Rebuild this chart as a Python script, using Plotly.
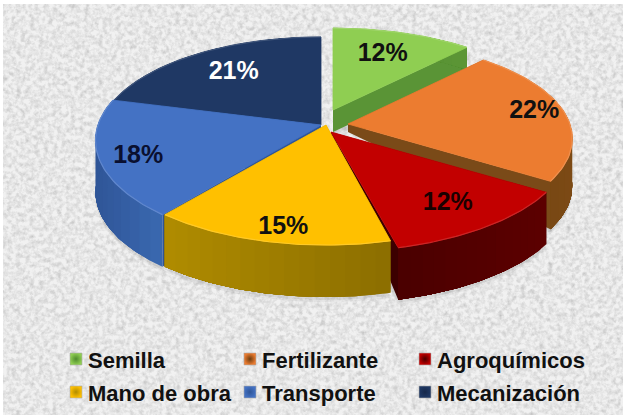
import math
import urllib.parse
import plotly.graph_objects as go

categories = ["Semilla", "Fertilizante", "Agroquímicos", "Mano de obra", "Transporte", "Mecanización"]
values = [12, 22, 12, 15, 18, 21]

# Style and projection settings (pie drawn in perspective, angles come from values)
top_colors = ["#8fce52", "#ec7c30", "#c20000", "#ffc000", "#4472c4", "#1f3864"]
side_left = ["#4f8a2e", "#6b3d10", "#4a0000", "#b08c00", "#2f5597", "#16284a"]
side_right = ["#5c9636", "#7c4a15", "#5c0000", "#8c6e00", "#3a68b0", "#16284a"]
radial_side = ["#5a9436", "#7a4a18", "#3c0000", "#8c6e00", "#2f5597", "#16284a"]
label_colors = ["#111111", "#111111", "#1a0000", "#111111", "#0a1030", "#ffffff"]
apex = [(333, 110), (348, 124), (331, 132), (326, 125), (321, 125), (321, 125)]
scale_x = [0.93, 0.94, 1.0, 0.96, 0.945, 0.94]
scale_y = [0.93, 0.95, 1.0, 1.0, 1.0, 1.0]
depth = [22, 48, 52, 52, 52, 40]
apex_depth = [22, 8, 8, 52, 52, 40]
label_frac = [0.68, 0.86, 0.77, 0.89, 0.83, 0.70]
label_shift = [(0, 0), (0, -2), (0, 1), (7, 0), (0, 4), (0, 0)]
draw_order = [5, 4, 0, 1, 2, 3]
RX, RY, KX, KY = 236, 104, 0.15, 0.154


def project(i, deg, r):
    a = math.radians(deg)
    s, down = math.sin(a), -math.cos(a)
    return (apex[i][0] + scale_x[i] * r * RX * s * (1 + KX * r * down),
            apex[i][1] + scale_y[i] * r * RY * down * (1 + KY * r * down))


def blend(c1, c2, t):
    p = [int(c1[j:j + 2], 16) for j in (1, 3, 5)]
    q = [int(c2[j:j + 2], 16) for j in (1, 3, 5)]
    return "#%02x%02x%02x" % tuple(round(a + (b - a) * t) for a, b in zip(p, q))


def area(xs, ys, color):
    return go.Scatter(x=xs, y=ys, mode="lines", fill="toself", fillcolor=color,
                      line=dict(width=0), hoverinfo="skip", showlegend=False)


total = sum(values)
starts, running = [], 0
for v in values:
    starts.append(running / total * 360)
    running += v

fig = go.Figure()

# soft shadow below the pie
for i in draw_order:
    st, sw = starts[i], values[i] / total * 360
    arc = [project(i, st + sw * n / 40, 1) for n in range(41)]
    for grow, alpha in ((5, 0.06), (3, 0.08)):
        xs = [apex[i][0]] + [p[0] for p in arc] + [apex[i][0]]
        ys = [apex[i][1] + depth[i] + grow] + [p[1] + depth[i] + grow for p in arc] + [apex[i][1] + depth[i] + grow]
        fig.add_trace(area(xs, ys, f"rgba(60,60,60,{alpha})"))

for i in draw_order:
    st, sw = starts[i], values[i] / total * 360
    d, d0 = depth[i], apex_depth[i]
    n_arc = 48
    arc = [project(i, st + sw * n / n_arc, 1) for n in range(n_arc + 1)]
    ax, ay = apex[i]
    # radial walls
    for p in (arc[0], arc[-1]):
        fig.add_trace(area([ax, p[0], p[0], ax, ax], [ay, p[1], p[1] + d, ay + d0, ay], radial_side[i]))
    # outer wall: each band runs to the arc's end and the next paints over it, so no seams
    xmin, xmax = min(p[0] for p in arc), max(p[0] for p in arc)
    for n in range(0, n_arc, 3):
        tail = arc[n:]
        t = (arc[min(n + 1, n_arc)][0] - xmin) / max(xmax - xmin, 1)
        fig.add_trace(area([p[0] for p in tail] + [p[0] for p in reversed(tail)] + [tail[0][0]],
                           [p[1] for p in tail] + [p[1] + d for p in reversed(tail)] + [tail[0][1]],
                           blend(side_left[i], side_right[i], t)))
    # top face
    fig.add_trace(go.Scatter(
        x=[ax] + [p[0] for p in arc] + [ax], y=[ay] + [p[1] for p in arc] + [ay],
        mode="lines", fill="toself", fillcolor=top_colors[i],
        line=dict(color=top_colors[i], width=0.8), name=categories[i],
        hovertemplate=f"{categories[i]}: {values[i]}%<extra></extra>", showlegend=False))
    # rim highlight
    fig.add_trace(go.Scatter(x=[p[0] for p in arc], y=[p[1] for p in arc], mode="lines",
                             line=dict(color=blend(top_colors[i], "#ffffff", 0.15), width=1.2),
                             hoverinfo="skip", showlegend=False))

# data labels
for i in range(len(values)):
    lx, ly = project(i, starts[i] + values[i] / total * 180, label_frac[i])
    fig.add_trace(go.Scatter(x=[lx + label_shift[i][0]], y=[ly + label_shift[i][1]], mode="text",
                             text=[f"{values[i]}%"],
                             textposition="middle center", hoverinfo="skip", showlegend=False,
                             textfont=dict(family="Liberation Sans", size=25, color=label_colors[i],
                                           weight="bold")))

# legend, three columns and two rows
legend_x = [76, 250, 425]
legend_y = [359, 392]
for i, name in enumerate(categories):
    mx, my = legend_x[i % 3], legend_y[i // 3]
    fig.add_trace(go.Scatter(x=[mx], y=[my], mode="markers", hoverinfo="skip", showlegend=False,
                             marker=dict(symbol="square", size=12, color=top_colors[i],
                                         gradient=dict(type="radial", color=side_left[i]),
                                         line=dict(width=1, color="rgba(170,170,170,0.6)"))))
    fig.add_annotation(x=mx + 12, y=my + 1, text=f"<b>{name}</b>", showarrow=False, xanchor="left",
                       yanchor="middle", xshift=-2,
                       font=dict(family="Liberation Sans", size=22, color="#111111"))

# paper-like background texture
svg = ('<svg xmlns="http://www.w3.org/2000/svg" width="620" height="411">'
       '<filter id="n" x="0" y="0" width="100%" height="100%" color-interpolation-filters="sRGB">'
       '<feTurbulence type="fractalNoise" baseFrequency="0.22" numOctaves="3" seed="4"/>'
       '<feColorMatrix type="matrix" values="0 0 0 0 0.72  0 0 0 0 0.72  0 0 0 0 0.72  0.9 0.9 0 0 -0.72"/>'
       '</filter><rect width="620" height="411" fill="#f1f1f1"/>'
       '<rect width="620" height="411" fill="#000" filter="url(#n)"/></svg>')
fig.add_layout_image(dict(source="data:image/svg+xml," + urllib.parse.quote(svg),
                          xref="x", yref="y", x=3, y=4, sizex=620, sizey=411,
                          xanchor="left", yanchor="top", sizing="stretch", layer="below"))

fig.update_layout(width=626, height=417, margin=dict(l=0, r=0, t=0, b=0),
                  paper_bgcolor="#ffffff", plot_bgcolor="#ffffff", showlegend=False,
                  xaxis=dict(range=[0, 626], visible=False, fixedrange=True),
                  yaxis=dict(range=[417, 0], visible=False, fixedrange=True))

fig.write_html("out.html", config={"displayModeBar": False},
               post_script="document.body.style.margin='0';")
